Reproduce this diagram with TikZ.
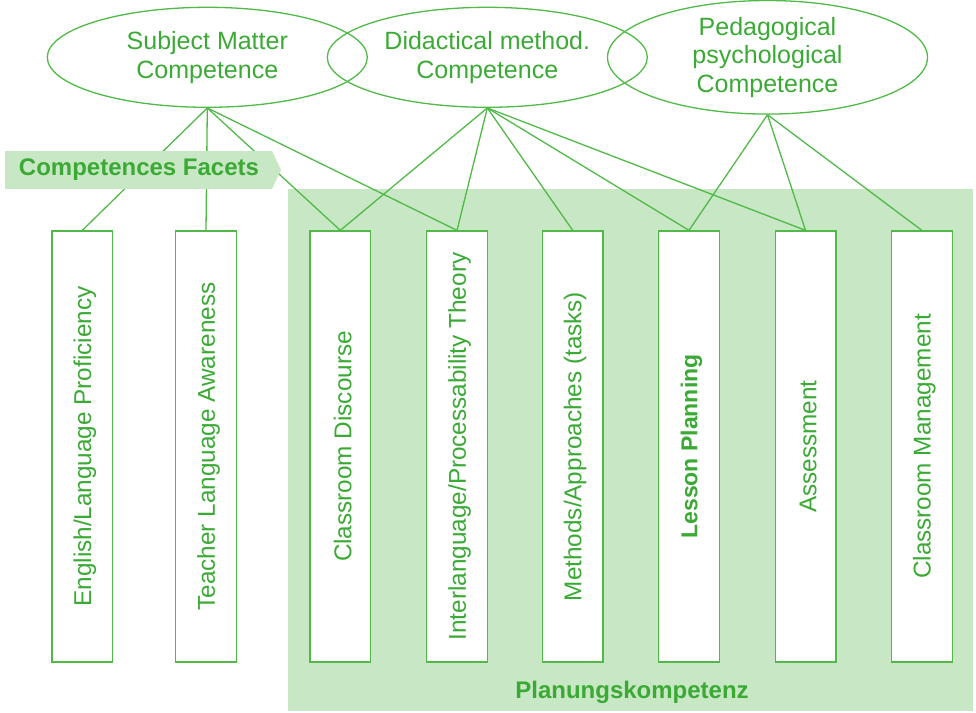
\documentclass[tikz,border=0pt]{standalone}
\usepackage{fontspec}
\setmainfont{Liberation Sans}
\usetikzlibrary{shapes.geometric}
\definecolor{lgreen}{RGB}{80,185,72}
\definecolor{tgreen}{RGB}{58,170,53}
\definecolor{bggreen}{RGB}{200,231,196}
\tikzset{
  comp/.style={ellipse, draw=lgreen, line width=1.3pt, minimum width=320pt, minimum height=100pt, inner sep=0pt, text=tgreen, align=center, font=\fontsize{25}{28.5}\selectfont},
  facet/.style={rectangle, draw=lgreen, line width=1.3pt, fill=white, minimum width=60.7pt, minimum height=431pt, inner sep=0pt},
  facettext/.style={xshift=2.5pt, rotate=90, text=tgreen, font=\fontsize{24.3}{28}\selectfont, inner sep=0pt},
  link/.style={draw=lgreen, line width=1.3pt},
  boldlabel/.style={text=tgreen, font=\fontsize{24}{28}\selectfont\bfseries, inner sep=0pt}
}
\begin{document}
\begin{tikzpicture}[x=1pt,y=-1pt]
\useasboundingbox (0,0) rectangle (976,712);
% background area
\fill[bggreen] (288,189) rectangle (973,711);
% ellipses
\node[comp] (e1) at (207.3,57.3) {Subject Matter\\Competence};
\node[comp] (e2) at (487.3,57.3) {Didactical method.\\Competence};
\node[comp] (e3) at (767.5,57.3) {Pedagogical\\psychological\\Competence};
% boxes
\node[facet] (b1) at (82.3,446.5) {};
\node[facet] (b2) at (206,446.5) {};
\node[facet] (b3) at (340.3,446.5) {};
\node[facet] (b4) at (457,446.5) {};
\node[facet] (b5) at (572.7,446.5) {};
\node[facet] (b6) at (689,446.5) {};
\node[facet] (b7) at (805.5,446.5) {};
\node[facet] (b8) at (921.8,446.5) {};
% links
\path[link] (e1.south) -- (b1.north);
\path[link] (e1.south) -- (b2.north);
\path[link] (e1.south) -- (b3.north);
\path[link] (e1.south) -- (b4.north);
\path[link] (e2.south) -- (b3.north);
\path[link] (e2.south) -- (b4.north);
\path[link] (e2.south) -- (b5.north);
\path[link] (e2.south) -- (b6.north);
\path[link] (e2.south) -- (b7.north);
\path[link] (e3.south) -- (b6.north);
\path[link] (e3.south) -- (b7.north);
\path[link] (e3.south) -- (b8.north);
% redraw boxes over links
\node[facet] at (b1) {};
\node[facet] at (b2) {};
\node[facet] at (b3) {};
\node[facet] at (b4) {};
\node[facet] at (b5) {};
\node[facet] at (b6) {};
\node[facet] at (b7) {};
\node[facet] at (b8) {};
% banner
\fill[bggreen] (5,151) -- (272,151) -- (281,170) -- (272,189) -- (5,189) -- cycle;
\node[boldlabel] (banner) at (139,170) {Competences Facets};
% facet texts
\node[facettext] (t1) at (b1) {English/Language Proficiency};
\node[facettext] (t2) at (b2) {Teacher Language Awareness};
\node[facettext] (t3) at (b3) {Classroom Discourse};
\node[facettext] (t4) at (b4) {Interlanguage/Processability Theory};
\node[facettext] (t5) at (b5) {Methods/Approaches (tasks)};
\node[facettext, font=\fontsize{23}{28}\selectfont\bfseries] (t6) at (b6) {Lesson Planning};
\node[facettext] (t7) at (b7) {Assessment};
\node[facettext] (t8) at (b8) {Classroom Management};
\node[boldlabel] (plan) at (632,692) {Planungskompetenz};
\end{tikzpicture}
\end{document}
